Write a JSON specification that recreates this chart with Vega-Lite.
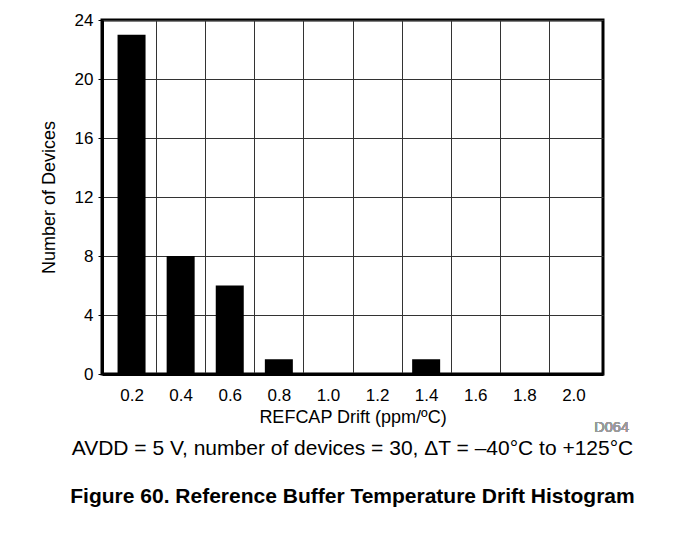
{
  "$schema": "https://vega.github.io/schema/vega-lite/v6.json",
  "width": 501,
  "height": 354,
  "autosize": {"type": "none"},
  "padding": {"left": 102, "top": 20, "right": 70, "bottom": 179},
  "background": "white",
  "config": {
    "font": "Liberation Sans",
    "view": {"stroke": "black", "strokeWidth": 3},
    "axis": {
      "labelFont": "Liberation Sans",
      "titleFont": "Liberation Sans",
      "labelColor": "black",
      "titleColor": "black",
      "labelFontSize": 17,
      "titleFontSize": 18,
      "titleFontWeight": "normal",
      "domainColor": "black",
      "domainWidth": 3,
      "gridColor": "#333333",
      "gridWidth": 1,
      "gridOpacity": 1
    }
  },
  "title": {
    "text": "AVDD = 5 V, number of devices = 30, ΔT = –40°C to +125°C",
    "subtitle": "Figure 60. Reference Buffer Temperature Drift Histogram",
    "orient": "bottom",
    "anchor": "middle",
    "font": "Liberation Sans",
    "fontSize": 21,
    "fontWeight": "normal",
    "color": "black",
    "offset": 3,
    "subtitleFont": "Liberation Sans",
    "subtitleFontSize": 21,
    "subtitleFontWeight": "bold",
    "subtitleColor": "black",
    "subtitlePadding": 27
  },
  "resolve": {"axis": {"x": "independent"}},
  "data": {
    "values": [
      {"drift": 0.2, "count": 23},
      {"drift": 0.4, "count": 8},
      {"drift": 0.6, "count": 6},
      {"drift": 0.8, "count": 1},
      {"drift": 1.0, "count": 0},
      {"drift": 1.2, "count": 0},
      {"drift": 1.4, "count": 1},
      {"drift": 1.6, "count": 0},
      {"drift": 1.8, "count": 0},
      {"drift": 2.0, "count": 0}
    ]
  },
  "layer": [
    {
      "mark": {"type": "bar", "color": "black", "size": 28},
      "encoding": {
        "x": {
          "field": "drift",
          "type": "quantitative",
          "scale": {"domain": [0.1, 2.1], "nice": false, "zero": false},
          "axis": {
            "title": "REFCAP Drift (ppm/ºC)",
            "values": [0.2, 0.4, 0.6, 0.8, 1.0, 1.2, 1.4, 1.6, 1.8, 2.0],
            "format": ".1f",
            "grid": false,
            "ticks": false,
            "labelPadding": 13,
            "titlePadding": 5,
            "labelFlush": false,
            "labelOverlap": false
          }
        },
        "y": {
          "field": "count",
          "type": "quantitative",
          "scale": {"domain": [0, 24], "nice": false},
          "axis": {
            "title": "Number of Devices",
            "values": [0, 4, 8, 12, 16, 20, 24],
            "grid": true,
            "ticks": true,
            "tickSize": 4,
            "tickColor": "black",
            "labelPadding": 5,
            "titlePadding": 16
          }
        }
      }
    },
    {
      "mark": {"type": "text", "text": "D064", "align": "right", "baseline": "middle", "dx": 31, "dy": 54, "fontSize": 14.5, "color": "#999999", "font": "Liberation Sans"},
      "encoding": {
        "x": {
          "datum": 2.1,
          "type": "quantitative",
          "axis": {
            "orient": "top",
            "values": [0.3, 0.5, 0.7, 0.9, 1.1, 1.3, 1.5, 1.7, 1.9],
            "grid": true,
            "labels": false,
            "ticks": false,
            "domain": false,
            "title": null
          }
        },
        "y": {"datum": 0, "type": "quantitative"}
      }
    }
  ]
}
